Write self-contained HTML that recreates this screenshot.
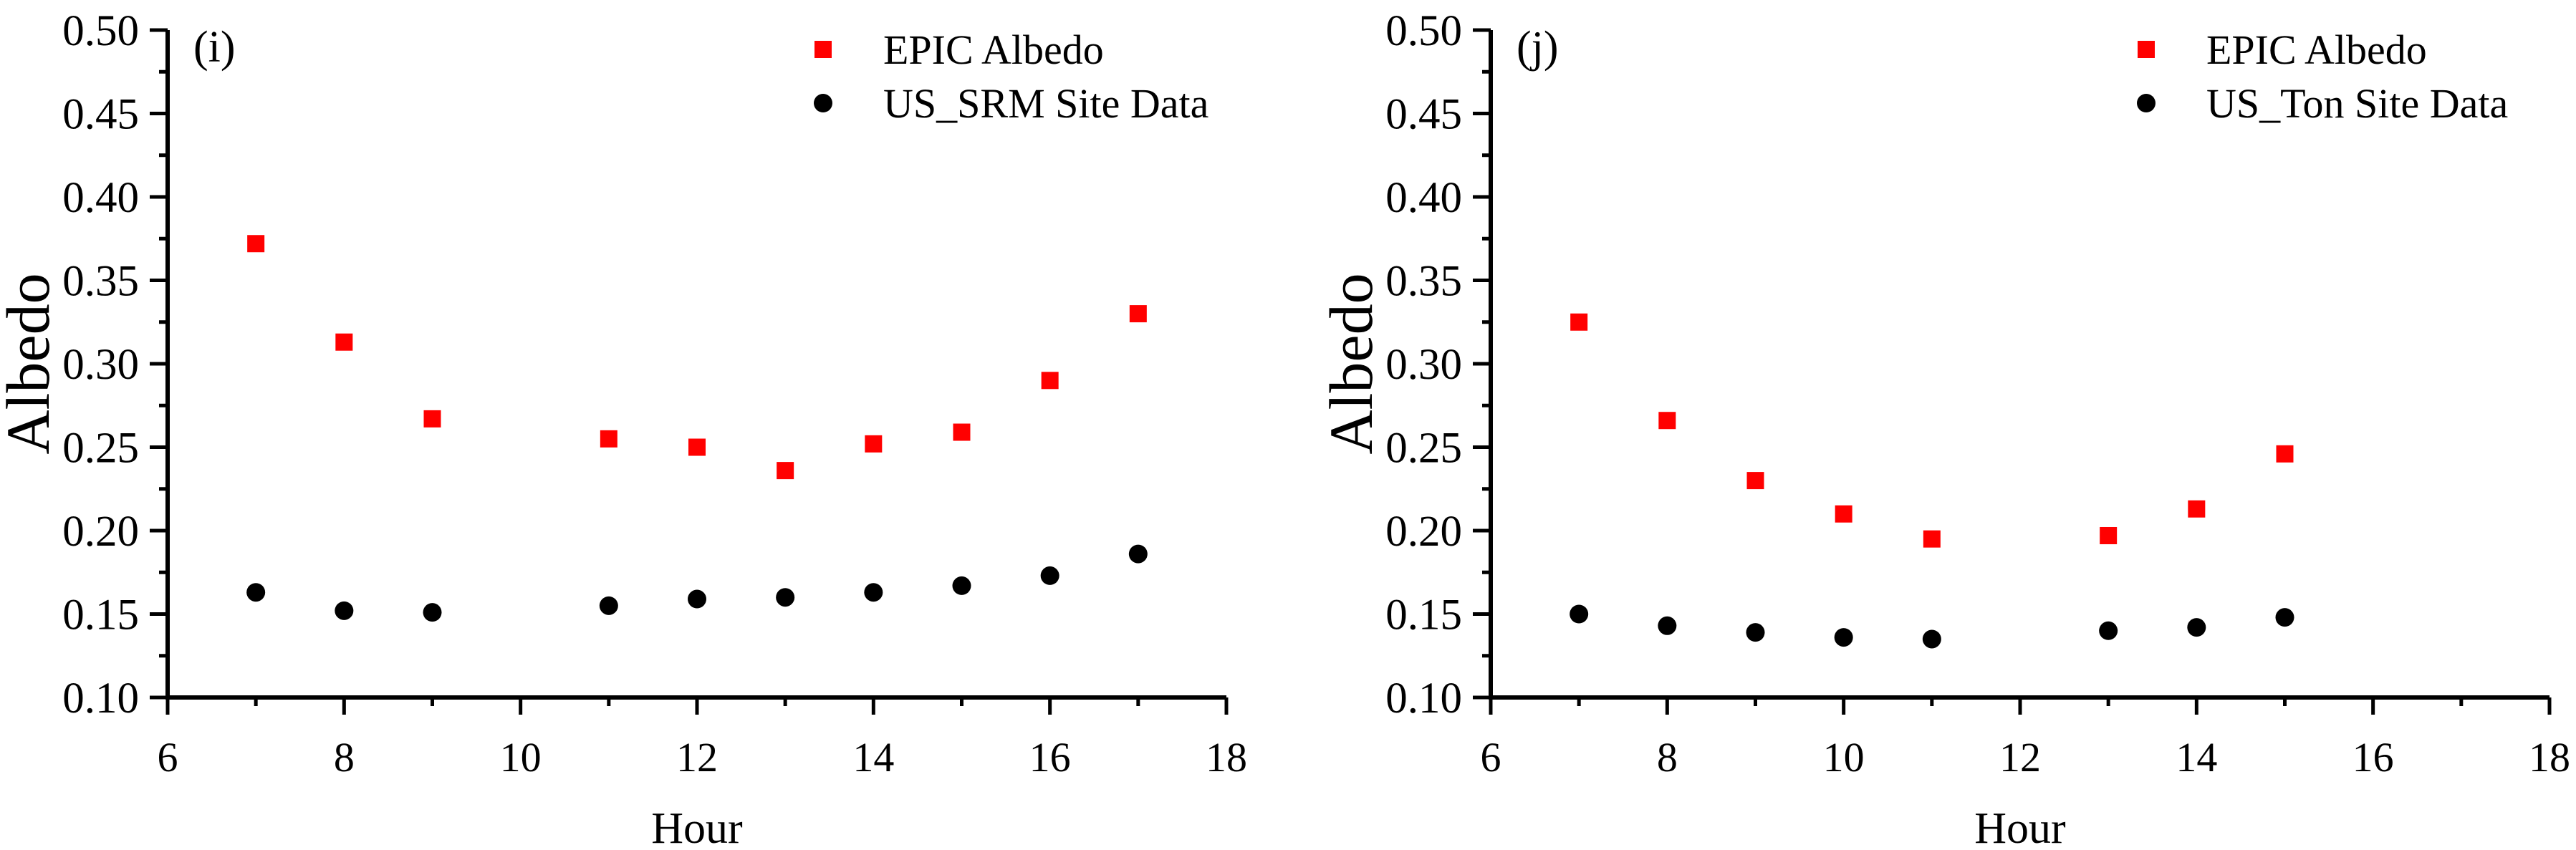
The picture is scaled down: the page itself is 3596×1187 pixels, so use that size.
<!DOCTYPE html>
<html><head><meta charset="utf-8"><style>
html,body{margin:0;padding:0;background:#fff;}
svg, svg text{font-family:"Liberation Serif","Times New Roman","DejaVu Serif",serif;}
svg{display:block;}
</style></head>
<body>
<svg id="chart" width="3596" height="1187" viewBox="0 0 3596 1187"></svg>
<script>
const hoursI = [7,8,9,11,12,13,14,15,16,17];
const epicI = [0.372,0.313,0.267,0.255,0.250,0.236,0.252,0.259,0.290,0.330];
const siteI = [0.163,0.152,0.151,0.155,0.159,0.160,0.163,0.167,0.173,0.186];
const hoursJ = [7,8,9,10,11,13,14,15];
const epicJ = [0.325,0.266,0.230,0.210,0.195,0.197,0.213,0.246];
const siteJ = [0.150,0.143,0.139,0.136,0.135,0.140,0.142,0.148];
const xTicks = [6,8,10,12,14,16,18];
const yTicks = ["0.10","0.15","0.20","0.25","0.30","0.35","0.40","0.45","0.50"];

const NS="http://www.w3.org/2000/svg";
const svg=document.getElementById('chart');
const FF='Liberation Serif, Times New Roman, DejaVu Serif, serif';
function mk(tag,attrs,parent,text){const e=document.createElementNS(NS,tag);for(const k in attrs)e.setAttribute(k,attrs[k]);if(text!==undefined){e.textContent=text;e.setAttribute('font-family',FF);}(parent||svg).appendChild(e);return e;}

function panel(id,x0,label,siteName,hours,epic,site){
  const g=mk('g',{});
  
  
  const x1=x0+1478, yB=974, yT=42;
  const xs=h=>x0+(h-6)/12*(x1-x0);
  const ys=v=>yB-(v-0.1)/0.4*(yB-yT);
  const ax=mk('path',{d:`M${x0},${yT} V${yB} H${x1}`,stroke:'#000','stroke-width':6,fill:'none'},g);
  
  
  for(let h=6;h<=18;h++){
    const maj=(h%2===0);
    mk('line',{x1:xs(h),x2:xs(h),y1:yB,y2:yB+(maj?24:12),stroke:'#000','stroke-width':5},g);
  }
  xTicks.forEach(t=>{
    const tx=mk('text',{x:xs(t),y:1077,'text-anchor':'middle','font-size':58},g,String(t));
    
    
  });
  for(let i=0;i<=16;i++){
    const v=0.1+i*0.025, maj=(i%2===0);
    mk('line',{x1:x0-(maj?25:12),x2:x0,y1:ys(v),y2:ys(v),stroke:'#000','stroke-width':5},g);
  }
  yTicks.forEach(t=>{
    const tx=mk('text',{x:x0-40,y:ys(parseFloat(t))+21,'text-anchor':'end','font-size':61},g,t);
    
    
  });
  const yt=mk('text',{x:0,y:0,transform:`translate(${x0-166},508) rotate(-90)`,'text-anchor':'middle','font-size':86},g,'Albedo');
  
  
  const xt=mk('text',{x:(x0+x1)/2,y:1177,'text-anchor':'middle','font-size':62},g,'Hour');
  
  
  const pl=mk('text',{x:x0+36,y:86,'font-size':62},g,label);
  
  
  hours.forEach((h,i)=>{
    const r=mk('rect',{x:xs(h)-12,y:ys(epic[i])-12,width:24,height:24,fill:'#ff0000'},g);
    
    
    const c=mk('circle',{cx:xs(h),cy:ys(site[i]),r:13,fill:'#000'},g);
    
    
  });
  const lx=x0+915;
  const l1=mk('rect',{x:lx-12,y:57,width:24,height:24,fill:'#ff0000'},g);
  
  
  const t1=mk('text',{x:lx+84,y:89,'font-size':58},g,'EPIC Albedo');
  
  
  const l2=mk('circle',{cx:lx,cy:144,r:13,fill:'#000'},g);
  
  
  const t2=mk('text',{x:lx+84,y:164,'font-size':58},g,siteName);
  
  
}
panel('i',234,'(i)','US_SRM Site Data',hoursI,epicI,siteI);
panel('j',2081,'(j)','US_Ton Site Data',hoursJ,epicJ,siteJ);
</script>
</body></html>
